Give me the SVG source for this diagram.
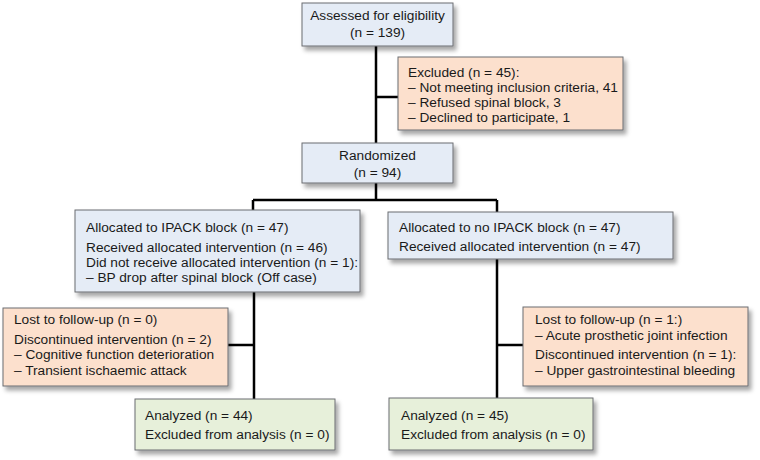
<svg xmlns="http://www.w3.org/2000/svg" width="760" height="460" viewBox="0 0 760 460">
<defs>
<filter id="sh" x="-10%" y="-10%" width="125%" height="140%">
<feDropShadow dx="3" dy="4" stdDeviation="2" flood-color="#000" flood-opacity="0.35"/>
</filter>
<style>
.b{fill:#e5ecf6;stroke:#6b6d70;stroke-width:1;filter:url(#sh)}
.o{fill:#fce0cd;stroke:#6b6d70;stroke-width:1;filter:url(#sh)}
.g{fill:#e7f0da;stroke:#6b6d70;stroke-width:1;filter:url(#sh)}
text{font-family:"Liberation Sans",Arial,sans-serif;font-size:13.7px;fill:#1a1a1a}
.c{text-anchor:middle}
.ln{stroke:#000;stroke-width:2.5;fill:none}
</style>
</defs>
<g id="connectors">
<path class="ln" d="M376 46V143M376 97H398"/>
<path class="ln" d="M376 183V200M253 200H497M253 200V210M497 200V212"/>
<path class="ln" d="M254 292V399M228 345H254"/>
<path class="ln" d="M497 259V398M497 345H523"/>
</g>
<g id="assessed">
<rect class="b" x="302" y="3" width="151" height="43"/>
<text class="c" x="377.5" y="20">Assessed for eligibility</text>
<text class="c" x="377.5" y="37">(n = 139)</text>
</g>
<g id="excluded">
<rect class="o" x="398" y="57" width="225" height="73"/>
<text x="408" y="77">Excluded (n = 45):</text>
<text x="408" y="92">– Not meeting inclusion criteria, 41</text>
<text x="408" y="107">– Refused spinal block, 3</text>
<text x="408" y="122">– Declined to participate, 1</text>
</g>
<g id="randomized">
<rect class="b" x="302" y="143" width="151" height="40"/>
<text class="c" x="377.5" y="160">Randomized</text>
<text class="c" x="377.5" y="177">(n = 94)</text>
</g>
<g id="alloc-ipack">
<rect class="b" x="75" y="210" width="285" height="82"/>
<text x="86" y="232">Allocated to IPACK block (n = 47)</text>
<text x="86" y="252">Received allocated intervention (n = 46)</text>
<text x="86" y="267">Did not receive allocated intervention (n = 1):</text>
<text x="86" y="282">– BP drop after spinal block (Off case)</text>
</g>
<g id="alloc-no-ipack">
<rect class="b" x="388" y="212" width="285" height="47"/>
<text x="399" y="232">Allocated to no IPACK block (n = 47)</text>
<text x="399" y="251">Received allocated intervention (n = 47)</text>
</g>
<g id="lost-left">
<rect class="o" x="3" y="308" width="225" height="78"/>
<text x="14" y="324">Lost to follow-up (n = 0)</text>
<text x="14" y="344">Discontinued intervention (n = 2)</text>
<text x="14" y="359">– Cognitive function deterioration</text>
<text x="14" y="375">– Transient ischaemic attack</text>
</g>
<g id="lost-right">
<rect class="o" x="523" y="307" width="225" height="79"/>
<text x="535" y="324">Lost to follow-up  (n = 1:)</text>
<text x="535" y="340">– Acute prosthetic joint infection</text>
<text x="535" y="359">Discontinued intervention (n = 1):</text>
<text x="535" y="375">– Upper gastrointestinal bleeding</text>
</g>
<g id="analyzed-left">
<rect class="g" x="135" y="399" width="200" height="51"/>
<text x="145" y="420">Analyzed (n = 44)</text>
<text x="145" y="439">Excluded from analysis (n = 0)</text>
</g>
<g id="analyzed-right">
<rect class="g" x="389" y="398" width="204" height="52"/>
<text x="401" y="420">Analyzed (n = 45)</text>
<text x="401" y="439">Excluded from analysis (n = 0)</text>
</g>
</svg>
